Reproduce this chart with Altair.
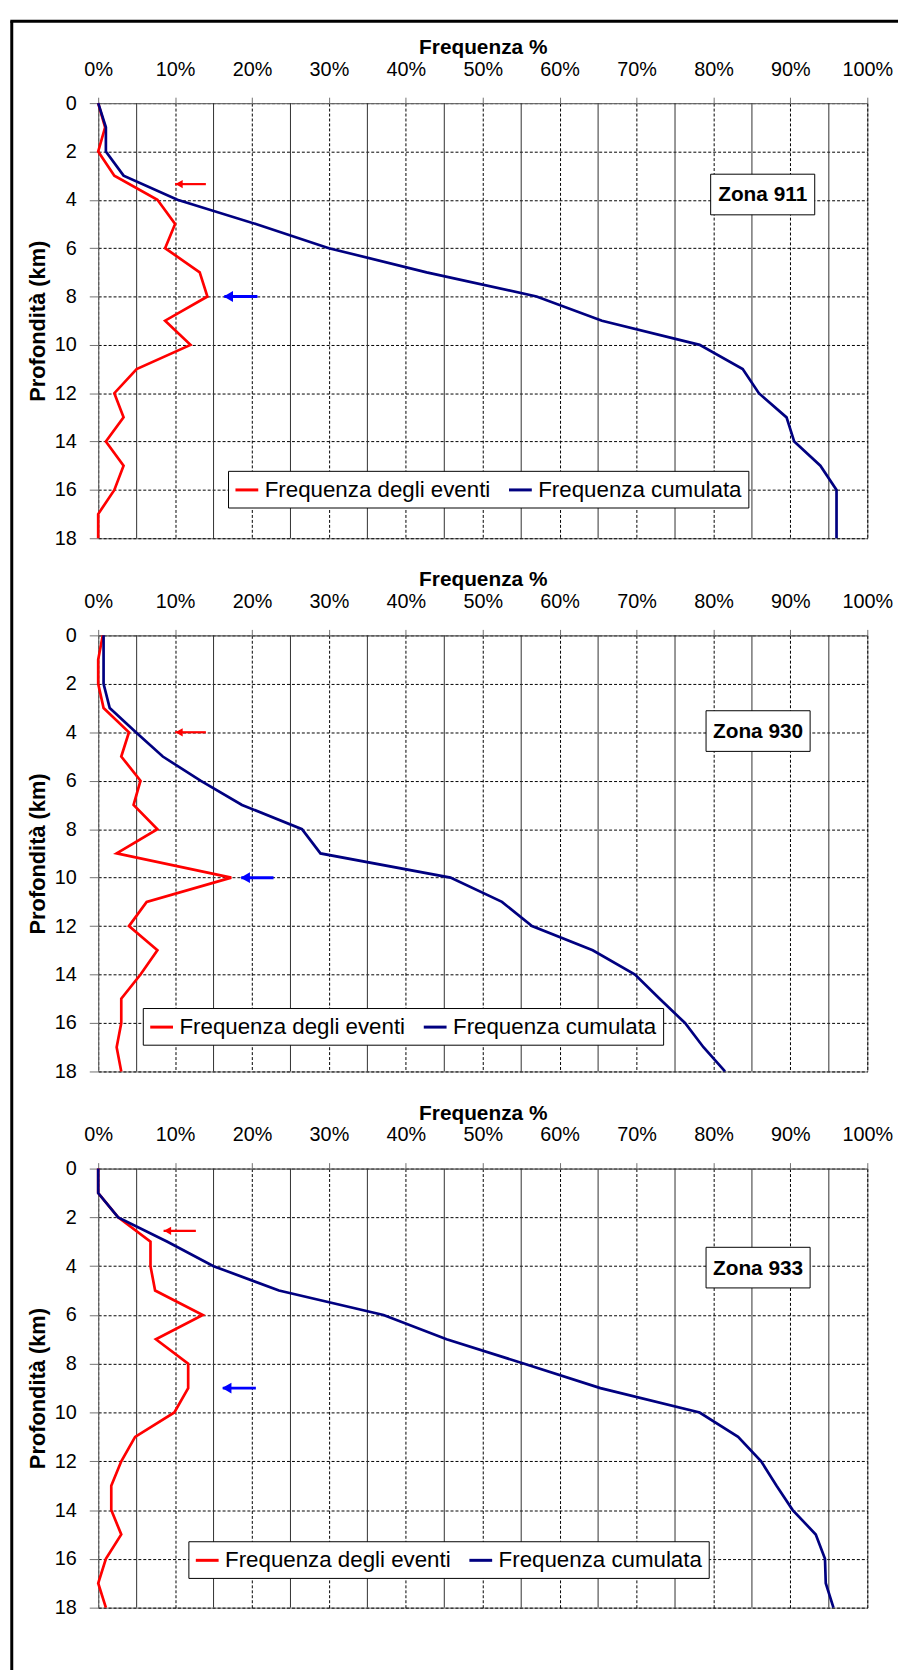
import altair as alt
import pandas as pd

FONT = "Liberation Sans"

# ---------------- data ----------------
depth = list(range(19))  # km

z911_eventi = [0, 0.9, 0, 2.1, 7.7, 10.0, 8.7, 13.2, 14.2, 8.7, 12.0, 5.0, 2.1, 3.3, 1.0, 3.3, 2.1, 0, 0]
z911_cumulata = [0, 1.0, 1.0, 3.3, 10.3, 20.5, 30.0, 42.7, 57.0, 65.5, 78.2, 83.8, 85.9, 89.5, 90.5, 93.9, 96.0, 96.0, 96.0]

z930_eventi = [0.6, 0, 0, 0.7, 4.0, 3.0, 5.5, 4.6, 7.7, 2.4, 17.3, 6.3, 4.0, 7.7, 5.5, 3.0, 3.0, 2.4, 3.0]
z930_cumulata = [0.7, 0.7, 0.7, 1.5, 4.9, 8.4, 13.3, 18.7, 26.5, 28.9, 45.8, 52.5, 56.4, 64.3, 69.8, 73.0, 76.3, 78.7, 81.5]

z933_eventi = [0, 0, 2.6, 6.8, 6.8, 7.4, 13.6, 7.5, 11.7, 11.7, 9.9, 4.8, 3.0, 1.7, 1.7, 3.0, 1.0, 0, 1.0]
z933_cumulata = [0, 0, 2.6, 9.0, 15.0, 23.5, 37.1, 45.3, 55.4, 65.3, 78.2, 83.2, 86.2, 88.2, 90.3, 93.3, 94.5, 94.6, 95.6]

zones = ["Zona 911", "Zona 930", "Zona 933"]
eventi = [z911_eventi, z930_eventi, z933_eventi]
cumulata = [z911_cumulata, z930_cumulata, z933_cumulata]

# zone label positions (data units)
zone_label_x = [86.4, 85.8, 85.8]
zone_label_y = [3.78, 3.95, 4.06]

# arrow annotations (data units): depth, tail %, tip %, colour
arrow_depth = [[3.35, 8.0], [4.0, 10.0], [2.55, 9.0]]
arrow_tail = [[14.0, 20.7], [14.0, 22.8], [12.7, 20.5]]
arrow_tip = [[10.0, 16.4], [10.0, 18.6], [8.5, 16.2]]
arrow_color = ["#FF0000", "#0000FF"]
arrow_width = [2.2, 3.0]
arrow_head = [70, 120]

series_names = ["Frequenza degli eventi", "Frequenza cumulata"]
series_colors = ["#FF0000", "#000080"]

x_ticks = list(range(0, 101, 10))
x_minor = list(range(5, 100, 10))
y_ticks = list(range(0, 19, 2))

panel_heights = [439, 440, 443]
legend_pos = [(131, 371), (45, 376), (91, 376)]
W = 776


def make_panel(i):
    h = panel_heights[i]
    df = pd.DataFrame({
        "depth": depth * 2,
        "value": eventi[i] + cumulata[i],
        "series": [series_names[0]] * 19 + [series_names[1]] * 19,
    })
    x_enc = alt.X(
        "value:Q",
        scale=alt.Scale(domain=[0, 100], nice=False, zero=False),
        axis=alt.Axis(
            orient="top", values=x_ticks, labelExpr="datum.value + '%'",
            title="Frequenza %", titleFontSize=21, titleFontWeight="bold",
            titleY=-50, titleBaseline="alphabetic", titleColor="black",
            labelFontSize=20, labelColor="black", labelFont=FONT, titleFont=FONT,
            labelPadding=18, tickSize=6, tickColor="#707070",
            domainColor="#707070", labelFlush=False, labelOverlap=False,
            grid=True, gridColor="black", gridDash=[3, 2], gridWidth=1,
        ),
    )
    y_enc = alt.Y(
        "depth:Q",
        scale=alt.Scale(domain=[0, 18], reverse=True, nice=False, zero=False),
        axis=alt.Axis(
            values=y_ticks, title="Profondità (km)", titleFontSize=22,
            titleFontWeight="bold", titleX=-49, titleColor="black",
            labelFontSize=20, labelColor="black", labelFont=FONT, titleFont=FONT,
            labelPadding=13, tickSize=9, tickColor="#707070",
            domainColor="#707070", labelOverlap=False, labelFlush=False,
            grid=True, gridColor="black", gridDash=[3, 2], gridWidth=1,
        ),
    )
    lx, ly = legend_pos[i]
    color_enc = alt.Color(
        "series:N",
        scale=alt.Scale(domain=series_names, range=series_colors),
        legend=alt.Legend(
            orient="none", legendX=lx, legendY=ly, direction="horizontal",
            title=None, labelFont=FONT, labelFontSize=22.5, labelColor="black",
            labelLimit=500, symbolType="stroke", symbolSize=529,
            symbolStrokeWidth=3, labelOffset=5, columnPadding=12, padding=6,
            fillColor="white", strokeColor="black",
        ),
    )

    minor = alt.Chart(pd.DataFrame({"value": x_minor})).mark_rule(
        color="#303030", strokeWidth=1
    ).encode(x=x_enc)

    red = alt.Chart(df[df.series == series_names[0]]).mark_line(
        strokeWidth=2.7
    ).encode(x=x_enc, y=y_enc, color=color_enc, order=alt.Order("depth:Q"))
    blue = alt.Chart(df[df.series == series_names[1]]).mark_line(
        strokeWidth=2.7
    ).encode(x=x_enc, y=y_enc, color=color_enc, order=alt.Order("depth:Q"))

    adf = pd.DataFrame({
        "depth": arrow_depth[i],
        "value": arrow_tail[i],
        "tip": arrow_tip[i],
        "col": arrow_color,
        "sw": arrow_width,
        "hs": arrow_head,
    })
    arrow_line = alt.Chart(adf).mark_rule().encode(
        x=x_enc, x2=alt.X2("tip"), y=y_enc,
        color=alt.Color("col:N", scale=None),
        strokeWidth=alt.StrokeWidth("sw:Q", scale=None),
    )
    adf2 = adf.assign(value=adf["tip"])
    arrow_hd = alt.Chart(adf2).mark_point(
        shape="triangle-left", filled=True, opacity=1, xOffset=4
    ).encode(
        x=x_enc, y=y_enc,
        color=alt.Color("col:N", scale=None),
        size=alt.Size("hs:Q", scale=None),
    )

    zdf = pd.DataFrame({"value": [zone_label_x[i]], "depth": [zone_label_y[i]], "t": [zones[i]]})
    zbox = alt.Chart(zdf).mark_rect(
        width=105, height=41, fill="white", stroke="black", strokeWidth=1
    ).encode(x=x_enc, y=y_enc)
    ztext = alt.Chart(zdf).mark_text(
        font=FONT, fontSize=21, fontWeight="bold", color="black",
        align="center", baseline="middle", dy=1
    ).encode(x=x_enc, y=y_enc, text="t:N")

    layers = [minor, red, blue, arrow_line, arrow_hd, zbox, ztext]

    if i == 0:
        fdf = pd.DataFrame({"a": [0]})
        frame_left = alt.Chart(fdf).mark_rule(color="black", strokeWidth=3).encode(
            x=alt.value(-87.2), y=alt.value(-82.7), y2=alt.value(1581)
        )
        frame_top = alt.Chart(fdf).mark_rule(color="black", strokeWidth=3).encode(
            x=alt.value(-88.7), x2=alt.value(807), y=alt.value(-82.7)
        )
        layers += [frame_left, frame_top]

    return alt.layer(*layers).properties(width=W, height=h)


panels = [make_panel(i) for i in range(3)]

chart = alt.vconcat(
    *panels, spacing=98, bounds="flush",
    padding={"left": 0, "top": 3.5, "right": 0, "bottom": 0},
).resolve_scale(color="independent").resolve_legend(color="independent").configure(
    font=FONT, background="white"
).configure_view(stroke="#707070", strokeWidth=1)

chart.save("out.html", embed_options={"renderer": "svg", "actions": False})
